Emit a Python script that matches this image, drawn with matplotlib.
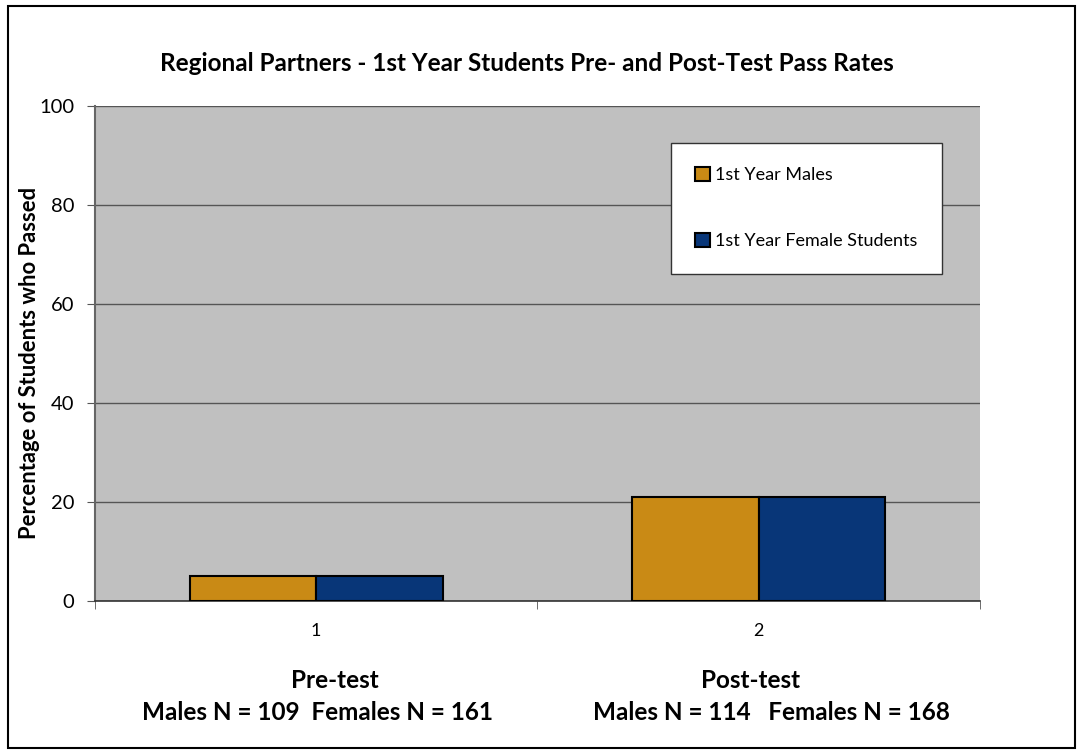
import numpy as np
import matplotlib
matplotlib.use("Agg")
import matplotlib.pyplot as plt
from matplotlib.patches import Rectangle

plt.rcParams['font.family'] = ['Lato', 'DejaVu Sans']

# pass rates (%) by test and group
tests = [1, 2]
males = [5, 21]
females = [5, 21]
series_names = ['1st Year Males', '1st Year Female Students']
group_titles = ['Pre-test', 'Post-test']
group_counts = ['Males N = 109  Females N = 161', 'Males N = 114   Females N = 168']

fig = plt.figure(figsize=(10.79, 7.54), dpi=100)
ax = fig.add_axes([0.088, 0.203, 0.820, 0.656])

x = np.array(tests)
w = 0.286
ax.bar(x - w / 2, males, w, color='#c98a15', edgecolor='black', linewidth=1.5,
       label=series_names[0], zorder=3)
ax.bar(x + w / 2, females, w, color='#083678', edgecolor='black', linewidth=1.5,
       label=series_names[1], zorder=3)

ax.set_facecolor('#c0c0c0')
ax.set_xlim(0.5, 2.5)
ax.set_ylim(0, 100)
ax.set_yticks(range(0, 101, 20))
ax.yaxis.grid(True, color='#555555', linewidth=1.0, zorder=0)
ax.set_axisbelow(True)

ax.set_xticks(tests)
ax.set_xticklabels([str(t) for t in tests], fontsize=13)
ax.set_xticks([0.5, 1.5, 2.5], minor=True)
ax.tick_params(axis='x', which='major', length=0, pad=16)
ax.tick_params(axis='x', which='minor', length=6, color='#555555', direction='out')
ax.tick_params(axis='y', length=6, color='#555555', labelsize=14.5, pad=9)

for s in ['top', 'right']:
    ax.spines[s].set_visible(False)
ax.spines['left'].set_color('#666666')
ax.spines['left'].set_linewidth(1.5)
ax.spines['bottom'].set_color('#333333')
ax.spines['bottom'].set_linewidth(1.2)

ax.set_ylabel('Percentage of Students who Passed', fontsize=15.8, fontweight='bold')
ax.yaxis.set_label_coords(-0.062, 0.482)
fig.text(0.488, 0.916, 'Regional Partners - 1st Year Students Pre- and Post-Test Pass Rates',
         ha='center', va='center', fontsize=17.5, fontweight='bold')

leg = ax.legend(loc='upper left', bbox_to_anchor=(0.651, 0.926), frameon=True, fancybox=False,
                fontsize=13, labelspacing=2.75, borderpad=1.35, handlelength=0.8,
                handleheight=0.8, handletextpad=0.3, borderaxespad=0, framealpha=1)
leg.get_frame().set_facecolor('white')
leg.get_frame().set_edgecolor('#333333')
leg.get_frame().set_linewidth(1.0)

# category captions below the axis
title_x = [335, 751]
count_x = [317, 771]
for i in range(len(tests)):
    fig.text(title_x[i] / 1079, 0.098, group_titles[i], ha='center', va='center',
             fontsize=17.5, fontweight='bold')
    fig.text(count_x[i] / 1079, 0.055, group_counts[i], ha='center', va='center',
             fontsize=17.5, fontweight='bold')

fig.patches.append(Rectangle((0.0075, 0.008), 0.989, 0.984, transform=fig.transFigure,
                             fill=False, edgecolor='black', linewidth=1.5))

fig.savefig('out.png', dpi=100)
